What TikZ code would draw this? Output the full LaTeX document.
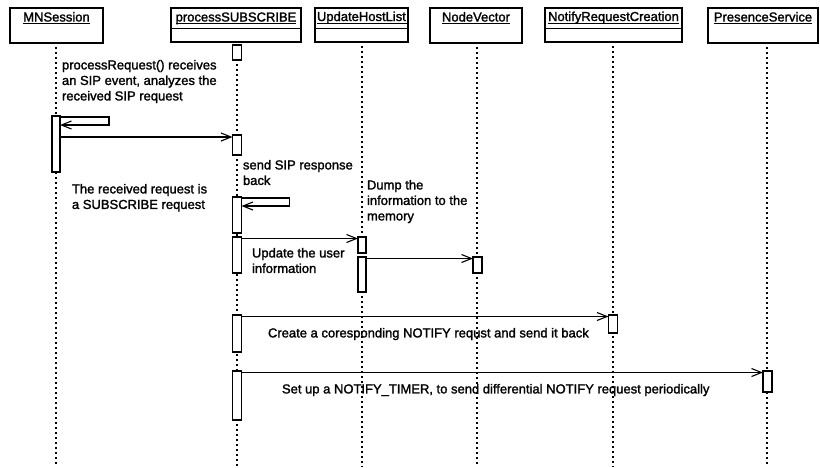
\documentclass[tikz,border=0pt]{standalone}
\usepackage{fontspec}
\setmainfont{Liberation Sans}[BoldFont={Liberation Sans}, BoldFeatures={FakeBold=1.6}]
\usetikzlibrary{arrows.meta}
\begin{document}
\begin{tikzpicture}[x=1pt,y=-1pt,
  every node/.style={inner sep=0pt, outer sep=0pt},
  txt/.style={font=\fontsize{13}{15.5}\selectfont\bfseries, align=left, anchor=north west},
  objbox/.style={draw, line width=1.3pt, fill=white, anchor=north west},
  objname/.style={font=\fontsize{13}{15}\selectfont\bfseries, anchor=base},
  uline/.style={line width=1pt},
  life/.style={line width=1.5pt, dash pattern=on 1.5pt off 3.5pt},
  actbar/.style={draw, fill=white, line width=1.2pt, minimum width=9pt},
  msg/.style={line width=1.1pt, -{Straight Barb[length=10pt,width=8pt,line width=1.1pt]}}
]
\useasboundingbox (0,0) rectangle (820,467);

% ---- object boxes ----
\node[objbox, minimum width=93pt, minimum height=35pt] (mnbox) at (10,8) {};
\node[objname] (mnname) at (56.5,21.5) {MNSession};

\node[objbox, minimum width=130pt, minimum height=34pt] (psbox) at (171,8) {};
\node[objname] (psname) at (236,21.5) {processSUBSCRIBE};
\draw[line width=1pt] (psbox.west |- 0,28) -- (psbox.east |- 0,28);

\node[objbox, minimum width=93pt, minimum height=34pt] (uhbox) at (315,8) {};
\begin{scope}
  \clip (315,8) rectangle (408,42);
  \node[objname, anchor=base west] (uhname) at (317,21) {UpdateHostList};
\end{scope}
\draw[line width=1pt] (uhbox.west |- 0,28) -- (uhbox.east |- 0,28);

\node[objbox, minimum width=92pt, minimum height=35pt] (nvbox) at (430,8) {};
\node[objname] (nvname) at (476,21.5) {NodeVector};

\node[objbox, minimum width=137pt, minimum height=34pt] (nrbox) at (545,8) {};
\node[objname] (nrname) at (613.5,21) {NotifyRequestCreation};
\draw[line width=1pt] (nrbox.west |- 0,28) -- (nrbox.east |- 0,28);

\node[objbox, minimum width=110pt, minimum height=35pt] (prbox) at (708,8) {};
\node[objname] (prname) at (763,21.5) {PresenceService};

% underlined object names
\foreach \n in {mnname,psname,nvname,nrname,prname}
  \draw[uline] ([yshift=-2pt]\n.base west) -- ([yshift=-2pt]\n.base east);
\draw[uline] ([yshift=-2pt]uhname.base west) -- ([yshift=-2pt]uhname.base west -| uhbox.east);

% ---- lifelines ----
\coordinate (mntop) at (56,47);   \coordinate (mnend) at (56,467);
\coordinate (pstop) at (237,44);  \coordinate (psend) at (237,467);
\coordinate (uhtop) at (362,46);  \coordinate (uhend) at (362,467);
\coordinate (nvtop) at (477,47);  \coordinate (nvend) at (477,467);
\coordinate (nrtop) at (613,46);  \coordinate (nrend) at (613,467);
\coordinate (prtop) at (767,47);  \coordinate (prend) at (767,467);
\foreach \l in {mn,ps,uh,nv,nr,pr}
  \draw[life] (\l top) -- (\l end);

% ---- activation bars ----
\node[actbar, minimum height=15pt] (ps0) at (237,52.5) {};
\node[actbar, minimum width=8pt, minimum height=56pt] (mn1) at (56,144) {};
\node[actbar, minimum height=20pt] (ps1) at (237,145) {};
\node[actbar, minimum height=36pt] (ps2) at (237,215) {};
\node[actbar, minimum height=36pt] (ps3) at (237,255) {};
\node[actbar, minimum width=8pt, minimum height=16pt] (uh1) at (362,245) {};
\node[actbar, minimum width=8pt, minimum height=35pt] (uh2) at (362,274.5) {};
\node[actbar, minimum height=16pt] (nv1) at (477.5,265) {};
\node[actbar, minimum height=37pt] (ps4) at (237,333.5) {};
\node[actbar, minimum height=18pt] (nr1) at (613,324) {};
\node[actbar, minimum height=49pt] (ps5) at (237,395.5) {};
\node[actbar, minimum height=21pt] (pr1) at (767.5,381.5) {};

% ---- messages ----
\draw[msg] ([yshift=-1pt]mn1.north east) -- ++(49,0) -- ++(0,8)
           -- ([yshift=-9pt]mn1.north east);
\coordinate (m1) at ([yshift=-2pt]ps1.north west);
\draw[msg] (mn1.east |- m1) -- (m1);

\draw[msg] ([yshift=-1pt]ps2.north east) -- ++(48,0) -- ++(0,8)
           -- ([yshift=-9pt]ps2.north east);

\coordinate (m2) at ([yshift=-1.5pt]uh1.north west);
\draw[msg] (ps3.east |- m2) -- (m2);
\coordinate (m3) at ([yshift=-1.5pt]nv1.north west);
\draw[msg] (uh2.east |- m3) -- (m3);
\coordinate (m4) at ([yshift=-1.5pt]nr1.north west);
\draw[msg] (ps4.east |- m4) -- (m4);
\coordinate (m5) at ([yshift=-1.5pt]pr1.north west);
\draw[msg] (ps5.east |- m5) -- (m5);

% ---- notes ----
\node[txt] (n1) at (62,60) {processRequest() receives\\an SIP event, analyzes the\\received SIP request};
\node[txt] (n2) at (72,184) {The received request is\\a SUBSCRIBE request};
\node[txt] (n3) at (243,160) {send SIP response\\back};
\node[txt] (n4) at (367,180) {Dump the\\information to the\\memory};
\node[txt] (n5) at (252,248) {Update the user\\information};
\node[txt] (n6) at (268,328) {Create a coresponding NOTIFY requst and send it back};
\node[txt] (n7) at (282,384) {Set up a NOTIFY\_TIMER, to send differential NOTIFY request periodically};
\end{tikzpicture}
\end{document}
